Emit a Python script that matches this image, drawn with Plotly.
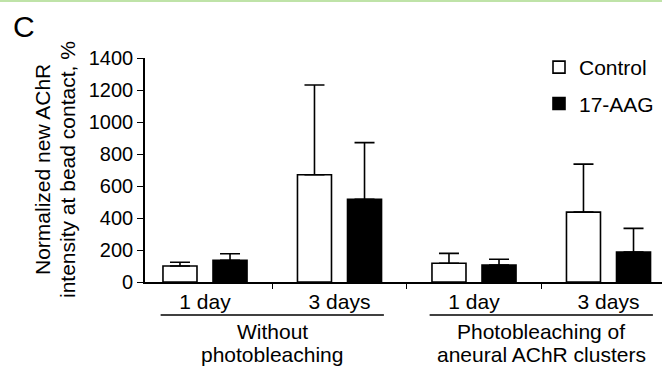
import plotly.graph_objects as go

# ---- data ----
group_pos = [0, 1, 2, 3]
day_labels = ["1 day", "3 days", "1 day", "3 days"]
control_mean = [100, 670, 117, 437]
control_upper = [123, 1231, 179, 737]
aag_mean = [135, 517, 106, 187]
aag_upper = [177, 871, 142, 335]
series_names = ["Control", "17-AAG"]
condition_labels = [["Without", "photobleaching"],
                    ["Photobleaching of", "aneural AChR clusters"]]
y_title = ["Normalized new AChR", "intensity at bead contact, %"]
y_ticks = [0, 200, 400, 600, 800, 1000, 1200, 1400]

FONT = "Arial, Liberation Sans, sans-serif"
W, H = 662, 369
L, R, T, B = 145, 0, 58, 369 - 282
plot_w = W - L - R
plot_h = H - T - B


def px_x(px):
    # window pixel -> paper x
    return (px - L) / plot_w


def px_y(py):
    # window pixel -> paper y
    return (H - B - py) / plot_h


ctrl_err = [u - m for u, m in zip(control_upper, control_mean)]
aag_err = [u - m for u, m in zip(aag_upper, aag_mean)]

fig = go.Figure()
fig.add_trace(go.Bar(
    x=group_pos, y=control_mean, name=series_names[0], legendgroup="a",
    marker=dict(color="white", line=dict(color="black", width=1.6)),
    error_y=dict(type="data", symmetric=False, array=ctrl_err,
                 arrayminus=[0] * 4, color="black", thickness=1.6, width=10),
))
fig.add_trace(go.Bar(
    x=group_pos, y=aag_mean, name=series_names[1], legendgroup="b",
    marker=dict(color="black", line=dict(color="black", width=1.6)),
    error_y=dict(type="data", symmetric=False, array=aag_err,
                 arrayminus=[0] * 4, color="black", thickness=1.6, width=10),
))

annotations = []
shapes = []
# group labels and underlines
for gi, lines in enumerate(condition_labels):
    mid = (group_pos[2 * gi] + group_pos[2 * gi + 1]) / 2
    shapes.append(dict(type="line", xref="x", yref="paper",
                       x0=mid - 0.83, x1=mid + 0.83,
                       y0=px_y(315), y1=px_y(315),
                       line=dict(color="black", width=1.6)))
    for li, txt in enumerate(lines):
        annotations.append(dict(text=txt, xref="x", yref="paper", x=mid,
                                y=px_y(331 + 23 * li), showarrow=False,
                                xanchor="center", yanchor="middle",
                                font=dict(size=21, color="black", family=FONT)))
# y title (two lines)
for li, txt in enumerate(y_title):
    annotations.append(dict(text=txt, xref="paper", yref="paper",
                            x=px_x(42 + 25 * li), y=px_y(170), textangle=-90,
                            showarrow=False, xanchor="center", yanchor="middle",
                            font=dict(size=21, color="black", family=FONT)))
# panel letter
annotations.append(dict(text="C", xref="paper", yref="paper",
                        x=px_x(24), y=px_y(26), showarrow=False,
                        xanchor="center", yanchor="middle",
                        font=dict(size=30, color="black", family=FONT)))
# top green border
shapes.append(dict(type="line", xref="paper", yref="paper",
                   x0=px_x(0), x1=px_x(662), y0=px_y(1), y1=px_y(1),
                   line=dict(color="#bfe3a8", width=2)))

px_per_unit = 134.5
fig.update_layout(
    width=W, height=H,
    margin=dict(l=L, r=R, t=T, b=B, autoexpand=False),
    paper_bgcolor="white", plot_bgcolor="white",
    barmode="group", bargap=0.256, bargroupgap=0.32,
    font=dict(family=FONT, size=21, color="black"),
    showlegend=True,
    legend=dict(x=px_x(539), y=px_y(47), xanchor="left", yanchor="top",
                bgcolor="rgba(0,0,0,0)", font=dict(size=21, family=FONT),
                tracegroupgap=6, itemwidth=30, traceorder="grouped"),
    xaxis=dict(range=[(145 - 205) / px_per_unit, (662 - 205) / px_per_unit],
               tickvals=group_pos, ticktext=day_labels, ticks="",
               showline=True, linecolor="black", linewidth=1.6,
               showgrid=False, zeroline=False,
               tickfont=dict(size=21, family=FONT, color="black"),
               minor=dict(tickvals=[0.5, 1.5, 2.5], ticks="outside",
                          ticklen=5, tickwidth=1.4, tickcolor="black",
                          showgrid=False)),
    yaxis=dict(range=[0, 1400], tickvals=y_ticks, ticks="outside",
               ticklen=6, tickwidth=1.4, tickcolor="black",
               showline=True, linecolor="black", linewidth=1.6,
               showgrid=False, zeroline=False,
               tickfont=dict(size=20, family=FONT, color="black")),
    annotations=annotations, shapes=shapes,
)

fig.write_html("out.html",
               config={"displayModeBar": False},
               post_script="document.body.style.margin='0';"
                           "document.body.style.overflow='hidden';")
